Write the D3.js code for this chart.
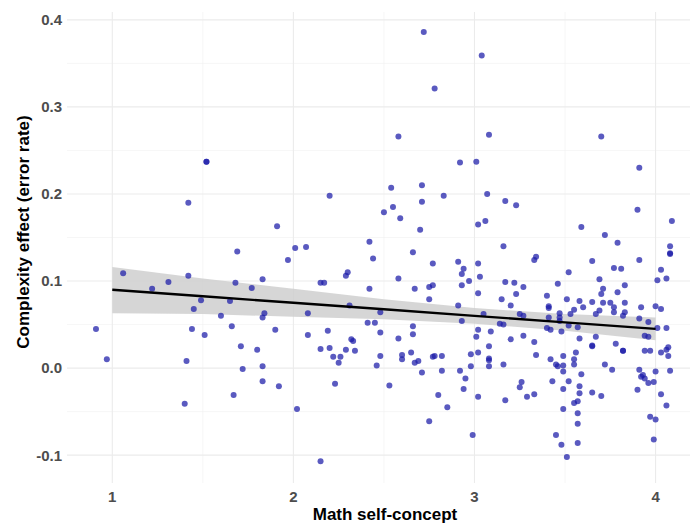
<!DOCTYPE html>
<html>
<head>
<meta charset="utf-8">
<script src="https://cdn.jsdelivr.net/npm/d3@7"></script>
<style>
	body { margin: 0; background: #fff; }
	svg { font-family: 'Liberation Sans', Arial, sans-serif; }
</style>
</head>
<body>
<script>
'use strict';

// scatter values (x = math self-concept, y = complexity effect)
var selfConcept = [
	2.72, 3.04, 2.78, 2.58, 3.08, 3.70,
	1.52, 1.52, 1.42, 1.91, 1.69, 1.06, 1.22, 1.31, 1.42, 1.68, 1.83, 1.77, 1.49, 1.65, 1.45, 1.60, 1.84, 1.83,
	2.92, 3.01, 2.71, 2.54, 2.20, 2.83, 2.71, 2.55, 2.50, 2.59, 3.02, 2.70, 2.42, 2.01, 2.07, 2.66, 1.97, 2.44,
	2.77, 2.91, 2.94, 3.02, 2.30, 2.29, 2.93, 3.03, 2.97, 2.58, 2.93, 2.15, 2.17, 2.42, 2.67, 2.75, 2.77, 3.02,
	2.75, 2.91, 2.31, 2.08, 2.48,
	3.91, 3.07, 3.17, 3.23, 3.90, 3.06, 4.09, 3.59, 3.72, 3.79, 3.16, 4.08, 4.08, 4.08, 3.34, 3.33, 3.91, 3.65,
	3.77, 3.81, 4.03, 3.52, 3.69, 4.06, 4.01, 3.17, 3.22, 3.27, 3.46, 3.83, 3.71, 3.70, 3.79, 3.23, 3.40, 3.15,
	3.51, 3.58, 3.65, 3.71, 3.75, 3.83, 3.20, 3.41, 3.41, 3.60, 3.77, 3.92, 4.00, 4.03, 3.55, 3.69, 3.77, 3.83,
	3.47, 3.53, 3.67, 3.25, 3.27, 3.41, 3.47, 3.82, 3.91, 3.05,
	0.91, 0.97, 1.44, 1.51, 1.66, 1.90, 1.41, 1.71, 1.80, 1.72, 1.83, 1.83, 1.92, 1.67, 1.40,
	2.41, 2.45, 2.66, 2.08, 2.19, 2.48, 2.58, 2.66, 2.32, 2.33, 2.15, 2.20, 2.29, 2.34, 2.22, 2.26, 2.25, 2.48,
	2.46, 2.60, 2.60, 2.65, 2.69, 2.67, 2.71, 2.77, 2.78, 2.82, 2.82, 2.92, 2.98, 2.98, 3.02, 3.02, 3.01, 2.93,
	2.23, 2.53, 2.95, 2.94, 2.80, 3.02, 2.85, 2.02, 2.75, 2.99, 2.15,
	3.14, 3.16, 3.40, 3.42, 3.48, 3.47, 3.52, 3.57, 3.96, 4.01, 4.06, 3.09, 3.20, 3.27, 3.33, 3.58, 3.67, 3.78,
	3.65, 3.65, 3.82, 3.82, 3.94, 3.96, 3.94, 3.97, 4.03, 4.06, 4.07, 4.07, 3.08, 3.08, 3.08, 3.08, 3.16, 3.34,
	3.42, 3.45, 3.46, 3.49, 3.56, 3.55, 3.49, 3.55, 3.49, 3.59, 3.72, 3.76, 3.91, 4.00, 4.08, 3.43, 3.52, 3.26,
	3.25, 3.49, 3.58, 3.58, 3.65, 3.70, 3.33, 3.29, 3.17, 3.57, 3.55, 3.49, 3.57, 3.57, 3.45, 3.48, 3.57, 3.51,
	3.92, 3.93, 3.94, 3.96, 3.90, 3.99, 4.03, 4.06, 3.97, 4.00, 3.99
];

var complexityEffect = [
	0.386, 0.359, 0.321, 0.266, 0.268, 0.266,
	0.237, 0.237, 0.190, 0.163, 0.134, 0.109, 0.091, 0.099, 0.106, 0.098, 0.102, 0.092, 0.078, 0.077, 0.068, 0.060, 0.063, 0.058,
	0.236, 0.237, 0.210, 0.207, 0.198, 0.198, 0.191, 0.185, 0.179, 0.172, 0.165, 0.159, 0.145, 0.138, 0.139, 0.133, 0.124, 0.126,
	0.120, 0.122, 0.114, 0.120, 0.110, 0.106, 0.108, 0.105, 0.100, 0.103, 0.095, 0.098, 0.098, 0.091, 0.091, 0.093, 0.095, 0.086,
	0.079, 0.072, 0.072, 0.063, 0.064,
	0.230, 0.200, 0.192, 0.187, 0.182, 0.169, 0.169, 0.162, 0.153, 0.144, 0.140, 0.140, 0.132, 0.131, 0.128, 0.124, 0.124, 0.123,
	0.115, 0.114, 0.113, 0.110, 0.102, 0.103, 0.101, 0.099, 0.098, 0.093, 0.097, 0.095, 0.091, 0.085, 0.087, 0.085, 0.083, 0.079,
	0.079, 0.077, 0.076, 0.075, 0.075, 0.075, 0.072, 0.071, 0.069, 0.070, 0.070, 0.070, 0.071, 0.068, 0.067, 0.066, 0.064, 0.064,
	0.063, 0.062, 0.062, 0.062, 0.060, 0.058, 0.058, 0.060, 0.057, 0.062,
	0.045, 0.010, 0.045, 0.038, 0.048, 0.044, 0.008, 0.025, 0.021, -0.001, 0.002, -0.015, -0.021, -0.031, -0.041,
	0.052, 0.052, 0.048, 0.038, 0.043, 0.041, 0.034, 0.039, 0.033, 0.031, 0.022, 0.023, 0.021, 0.020, 0.013, 0.013, 0.006, 0.014,
	0.003, 0.015, 0.010, 0.018, 0.008, 0.006, -0.005, 0.013, 0.014, 0.014, -0.003, -0.003, 0.002, 0.016, 0.018, 0.044, 0.036, 0.054,
	-0.018, -0.020, -0.012, -0.024, -0.031, -0.033, -0.045, -0.047, -0.061, -0.077, -0.107,
	0.051, 0.050, 0.046, 0.044, 0.042, 0.054, 0.049, 0.047, 0.053, 0.046, 0.046, 0.042, 0.033, 0.037, 0.030, 0.034, 0.036, 0.028,
	0.025, 0.026, 0.020, 0.020, 0.037, 0.036, 0.020, 0.020, 0.018, 0.021, 0.024, 0.014, 0.025, 0.011, 0.009, 0.002, 0.004, 0.015,
	0.010, 0.004, 0.002, 0.014, 0.018, 0.010, 0.003, 0.004, -0.004, -0.007, 0.004, -0.002, -0.002, -0.004, -0.003, -0.015, -0.015, -0.016,
	-0.022, -0.024, -0.021, -0.029, -0.028, -0.032, -0.030, -0.033, -0.037, -0.038, -0.040, -0.047, -0.052, -0.064, -0.077, -0.088, -0.086, -0.102,
	-0.010, -0.008, -0.012, -0.017, -0.025, -0.016, -0.030, -0.043, -0.056, -0.059, -0.082
];

// fitted line and its confidence band
var fitX = [1, 1.5, 2, 2.5, 3, 3.5, 4],
	fitY = [0.090, 0.0825, 0.075, 0.0675, 0.060, 0.0525, 0.045],
	bandLow = [0.063, 0.062, 0.059, 0.056, 0.051, 0.043, 0.032],
	bandHigh = [0.116, 0.103, 0.091, 0.079, 0.069, 0.062, 0.058];

var xTicks = [1, 2, 3, 4],
	xMinor = [1.5, 2.5, 3.5],
	yTicks = [-0.1, 0.0, 0.1, 0.2, 0.3, 0.4],
	yLabels = ['-0.1', '0.0', '0.1', '0.2', '0.3', '0.4'],
	yMinor = [-0.05, 0.05, 0.15, 0.25, 0.35];

var width = 695, height = 523,
	panel = {left: 67, right: 690, top: 12, bottom: 483},

x = d3.scaleLinear()
	.domain([0.75, 4.19])
	.range([panel.left, panel.right]),

y = d3.scaleLinear()
	.domain([-0.132, 0.409])
	.range([panel.bottom, panel.top]);

var svg = d3.select('body').append('svg')
	.attr('width', width)
	.attr('height', height);

// grid, minor lines first
var grid = svg.append('g');

grid.selectAll('.xminor')
	.data(xMinor).enter()
	.append('line')
		.attr('x1', function(d) { return x(d); })
		.attr('x2', function(d) { return x(d); })
		.attr('y1', panel.top)
		.attr('y2', panel.bottom)
		.attr('stroke', '#f0f0f0')
		.attr('stroke-width', 0.6);

grid.selectAll('.yminor')
	.data(yMinor).enter()
	.append('line')
		.attr('y1', function(d) { return y(d); })
		.attr('y2', function(d) { return y(d); })
		.attr('x1', panel.left)
		.attr('x2', panel.right)
		.attr('stroke', '#f0f0f0')
		.attr('stroke-width', 0.6);

grid.selectAll('.xmajor')
	.data(xTicks).enter()
	.append('line')
		.attr('x1', function(d) { return x(d); })
		.attr('x2', function(d) { return x(d); })
		.attr('y1', panel.top)
		.attr('y2', panel.bottom)
		.attr('stroke', '#ebebeb')
		.attr('stroke-width', 1.1);

grid.selectAll('.ymajor')
	.data(yTicks).enter()
	.append('line')
		.attr('y1', function(d) { return y(d); })
		.attr('y2', function(d) { return y(d); })
		.attr('x1', panel.left)
		.attr('x2', panel.right)
		.attr('stroke', '#ebebeb')
		.attr('stroke-width', 1.1);

// confidence band
var band = d3.area()
	.x(function(d, i) { return x(fitX[i]); })
	.y0(function(d, i) { return y(bandLow[i]); })
	.y1(function(d, i) { return y(bandHigh[i]); });

svg.append('path')
	.datum(fitX)
	.attr('d', band)
	.attr('fill', '#cfcfcf')
	.attr('opacity', 0.85);

// points
svg.append('g').selectAll('circle')
	.data(d3.range(selfConcept.length)).enter()
	.append('circle')
		.attr('cx', function(i) { return x(selfConcept[i]); })
		.attr('cy', function(i) { return y(complexityEffect[i]); })
		.attr('r', 3)
		.attr('fill', '#1a1aa8')
		.attr('fill-opacity', 0.72);

// regression line
var line = d3.line()
	.x(function(d, i) { return x(fitX[i]); })
	.y(function(d, i) { return y(fitY[i]); });

svg.append('path')
	.datum(fitX)
	.attr('d', line)
	.attr('fill', 'none')
	.attr('stroke', '#000')
	.attr('stroke-width', 2.4);

// tick labels
svg.append('g').selectAll('text')
	.data(yTicks).enter()
	.append('text')
		.attr('x', 62)
		.attr('y', function(d) { return y(d); })
		.attr('dy', '0.36em')
		.attr('text-anchor', 'end')
		.attr('fill', '#4d4d4d')
		.attr('font-size', 15)
		.attr('font-weight', 'bold')
		.text(function(d, i) { return yLabels[i]; });

svg.append('g').selectAll('text')
	.data(xTicks).enter()
	.append('text')
		.attr('x', function(d) { return x(d); })
		.attr('y', 502)
		.attr('text-anchor', 'middle')
		.attr('fill', '#4d4d4d')
		.attr('font-size', 15)
		.attr('font-weight', 'bold')
		.text(function(d) { return d; });

// axis titles
svg.append('text')
	.attr('x', 385)
	.attr('y', 520)
	.attr('text-anchor', 'middle')
	.attr('font-size', 17)
	.attr('font-weight', 'bold')
	.text('Math self-concept');

svg.append('text')
	.attr('transform', 'translate(29,232) rotate(-90)')
	.attr('text-anchor', 'middle')
	.attr('font-size', 17)
	.attr('font-weight', 'bold')
	.text('Complexity effect (error rate)');
</script>
</body>
</html>
